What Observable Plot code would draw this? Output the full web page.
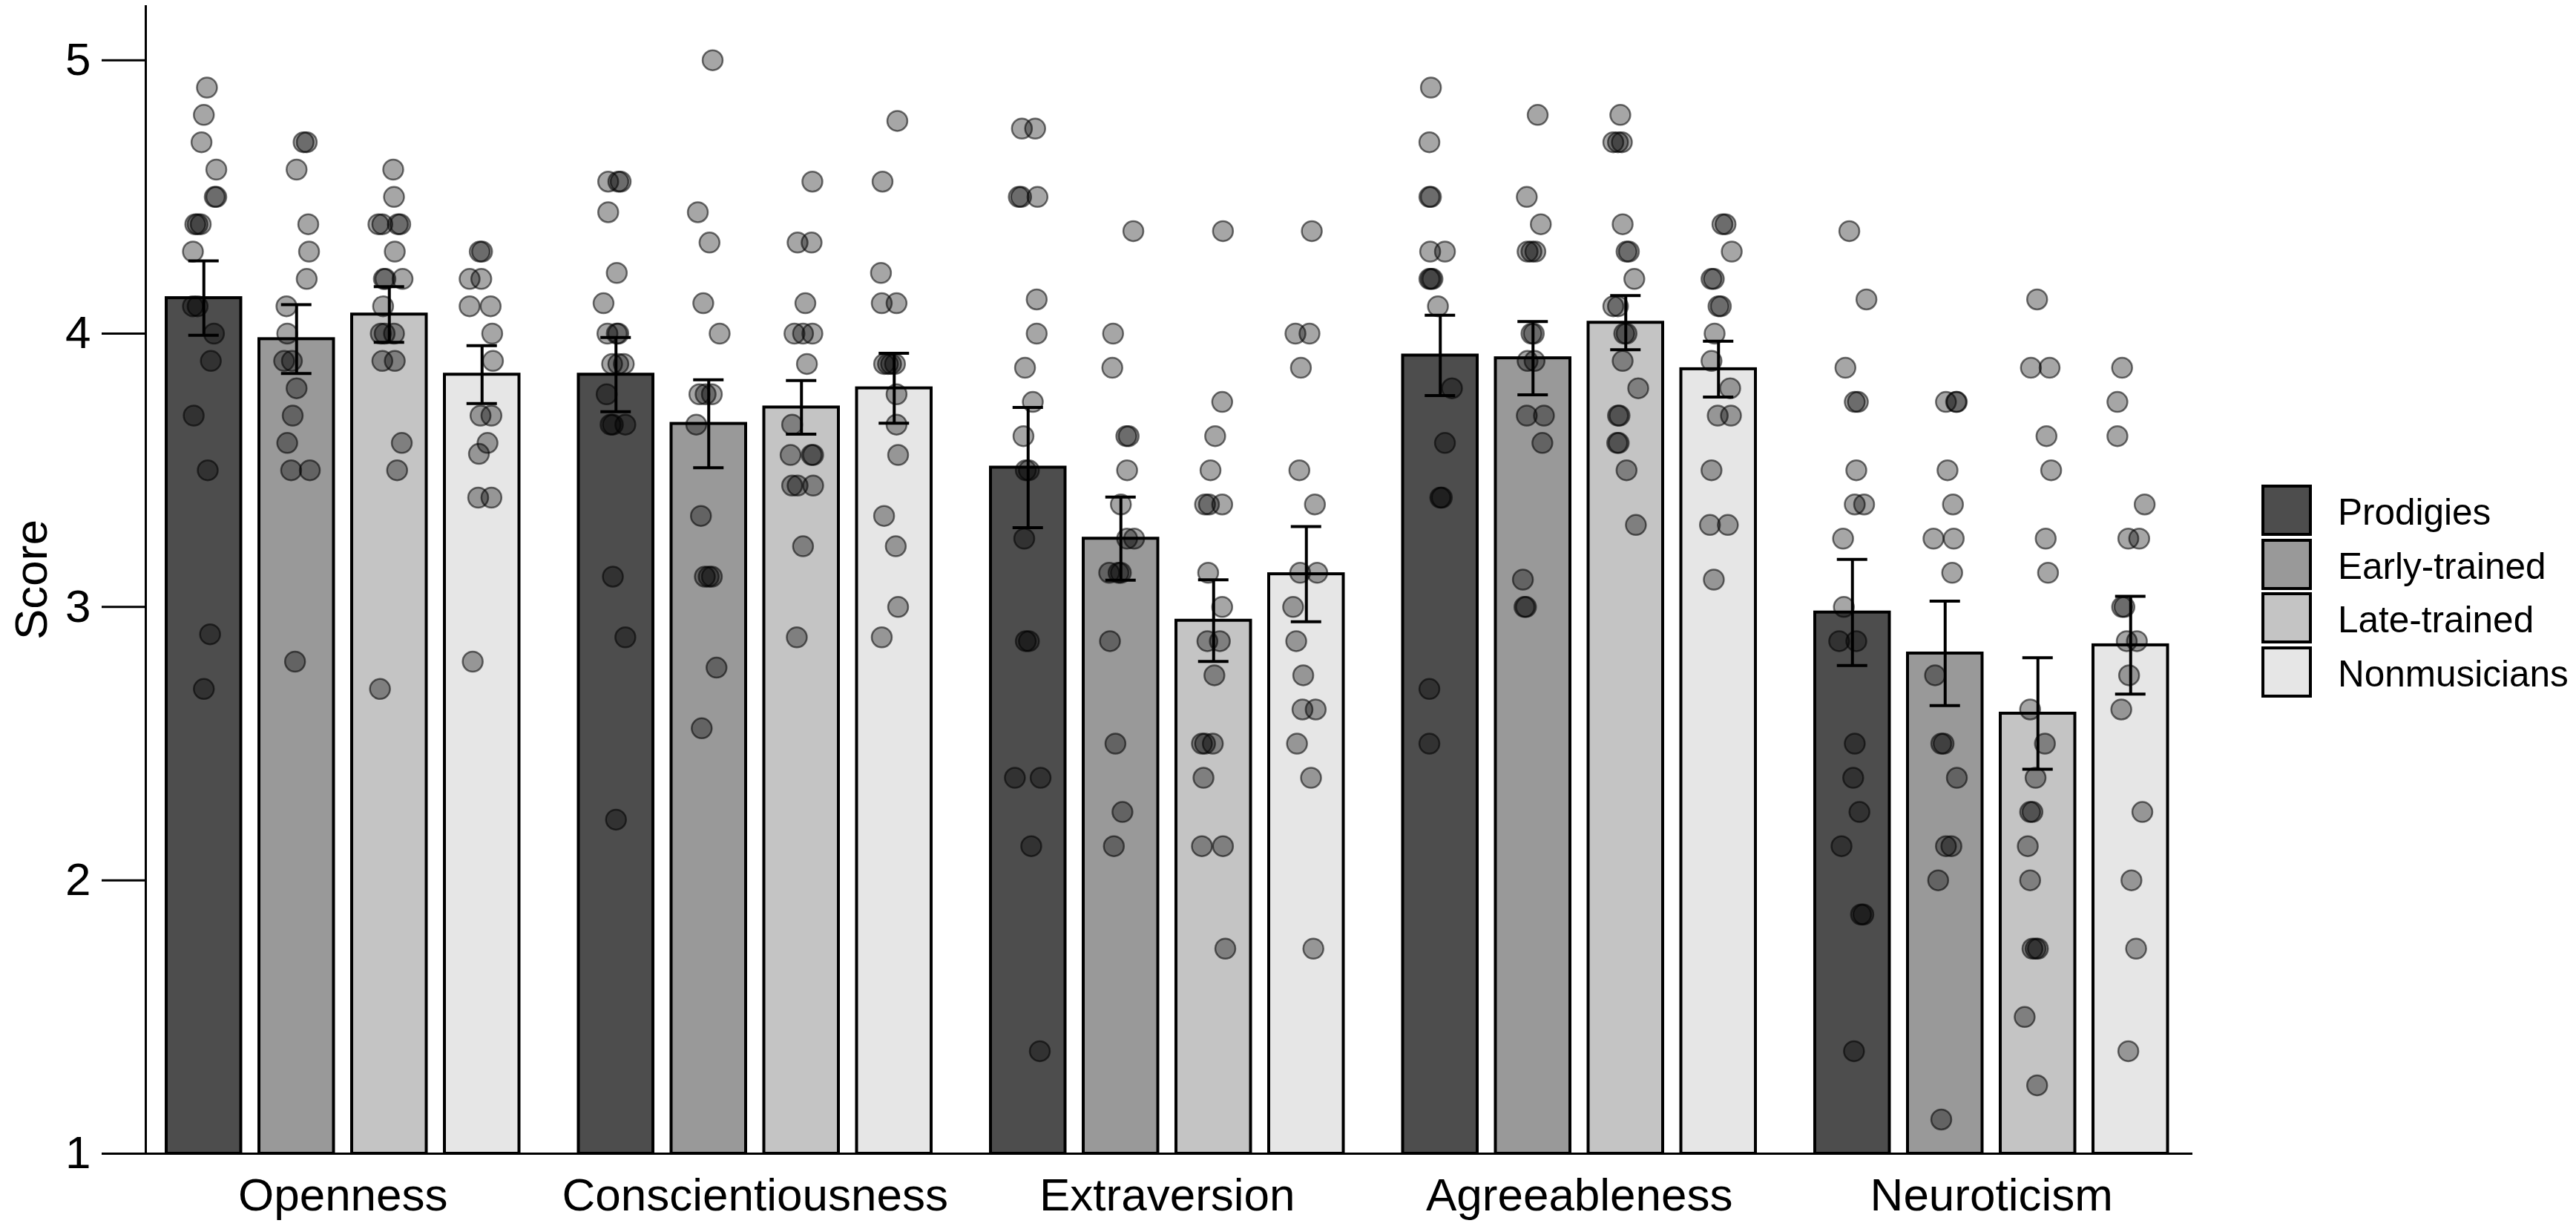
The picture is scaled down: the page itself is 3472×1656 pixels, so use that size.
<!DOCTYPE html>
<html><head><meta charset="utf-8">
<script src="https://cdn.jsdelivr.net/npm/d3@7"></script>
<script src="https://cdn.jsdelivr.net/npm/@observablehq/plot@0.6"></script>
<style>
html,body{margin:0;padding:0;background:#fff;}
#wrap{position:relative;width:3472px;height:1656px;overflow:hidden;}
#chart svg text{font-family:"Liberation Sans",Arial,sans-serif;font-size:62px;fill:#000;}
#chart svg .tick line{stroke:#000;stroke-width:3px;}
#chart svg g[aria-label="y-axis tick"]{stroke-width:3px;stroke:#000;}
#legend{position:absolute;left:3048px;top:653px;font-family:"Liberation Sans",Arial,sans-serif;font-size:49.5px;color:#000;}
.item{display:flex;align-items:center;height:69px;margin-bottom:3.5px;}
.sw{box-sizing:border-box;width:68px;height:69px;border:4.5px solid #000;margin-right:35px;flex:none;}
.lab{padding-top:4px;white-space:nowrap;}
</style></head><body>
<div id="wrap"><div id="chart"></div><div id="legend"></div></div>
<script>
const traits = ["Openness","Conscientiousness","Extraversion","Agreeableness","Neuroticism"];
const groups = ["Prodigies","Early-trained","Late-trained","Nonmusicians"];
const groupFills = ["#4d4d4d","#999999","#c4c4c4","#e6e6e6"];
const yTicks = [1,2,3,4,5];

// bar means per trait (O, C, E, A, N)
const meansProdigies = [4.13, 3.85, 3.51, 3.92, 2.98];
const meansEarly     = [3.98, 3.67, 3.25, 3.91, 2.83];
const meansLate      = [4.07, 3.73, 2.95, 4.04, 2.61];
const meansNon       = [3.85, 3.80, 3.12, 3.87, 2.86];
// standard errors
const seProdigies = [0.136, 0.136, 0.220, 0.147, 0.194];
const seEarly     = [0.126, 0.161, 0.152, 0.134, 0.191];
const seLate      = [0.102, 0.098, 0.149, 0.099, 0.204];
const seNon       = [0.106, 0.128, 0.174, 0.102, 0.179];

// individual scores: [score, horizontal jitter as fraction of bar width]
const opennessScores = [
  [[4.9,.04],[4.8,0],[4.7,-.03],[4.6,.16],[4.5,.14],[4.5,.16],[4.4,-.11],[4.4,-.08],[4.4,-.04],[4.3,-.14],[4.1,-.14],[4.1,-.08],[4.0,.13],[3.9,.09],[3.7,-.13],[3.5,.05],[2.9,.08],[2.7,0]],
  [[4.7,.09],[4.7,.13],[4.6,0],[4.4,.15],[4.3,.16],[4.2,.13],[4.1,-.13],[4.0,-.12],[3.9,-.16],[3.9,-.06],[3.8,0],[3.7,-.05],[3.6,-.12],[3.5,-.07],[3.5,.17],[2.8,-.02]],
  [[4.6,.05],[4.5,.06],[4.4,-.14],[4.4,-.09],[4.4,.11],[4.4,.14],[4.3,.07],[4.2,-.07],[4.2,-.05],[4.2,.17],[4.1,-.08],[4.0,-.11],[4.0,-.06],[4.0,.06],[3.9,-.09],[3.9,.07],[3.6,.16],[3.5,.10],[2.7,-.12]],
  [[4.3,-.03],[4.3,0],[4.2,-.16],[4.2,-.01],[4.1,-.16],[4.1,.11],[4.0,.13],[3.9,.14],[3.7,-.02],[3.7,.12],[3.6,.07],[3.56,-.04],[3.4,-.05],[3.4,.12],[2.8,-.12]]
];
const conscientiousnessScores = [
  [[4.556,-.10],[4.556,.03],[4.556,.06],[4.444,-.10],[4.222,.01],[4.111,-.16],[4.0,-.11],[4.0,.01],[4.0,.03],[3.889,-.05],[3.889,.03],[3.889,.10],[3.778,-.12],[3.667,-.07],[3.667,-.04],[3.667,.12],[3.111,-.04],[2.889,.12],[2.222,0]],
  [[5.0,.05],[4.444,-.14],[4.333,.01],[4.111,-.07],[4.0,.14],[3.778,-.12],[3.778,-.04],[3.778,.04],[3.667,-.16],[3.333,-.10],[3.111,-.05],[3.111,0],[3.111,.04],[2.778,.10],[2.556,-.09]],
  [[4.556,.14],[4.333,-.05],[4.333,.13],[4.111,.05],[4.0,-.09],[4.0,.02],[4.0,.14],[3.889,.07],[3.667,-.12],[3.556,-.14],[3.556,.13],[3.556,.15],[3.444,-.12],[3.444,-.05],[3.444,.15],[3.222,.02],[2.889,-.06]],
  [[4.778,.04],[4.556,-.15],[4.222,-.17],[4.111,-.16],[4.111,.03],[3.889,-.13],[3.889,-.08],[3.889,-.04],[3.889,.01],[3.778,.03],[3.667,.03],[3.556,.05],[3.333,-.13],[3.222,.02],[3.0,.05],[2.889,-.16]]
];
const extraversionScores = [
  [[4.75,-.08],[4.75,.09],[4.5,-.12],[4.5,-.09],[4.5,.12],[4.125,.11],[4.0,.11],[3.875,-.04],[3.75,.06],[3.625,-.06],[3.5,-.03],[3.5,.01],[3.25,-.05],[2.875,-.03],[2.875,.01],[2.375,-.17],[2.375,.16],[2.125,.04],[1.375,.15]],
  [[4.375,.16],[4.0,-.10],[3.875,-.11],[3.625,.07],[3.625,.10],[3.5,.08],[3.375,0],[3.25,.08],[3.25,.17],[3.125,-.15],[3.125,-.03],[3.125,0],[2.875,-.14],[2.5,-.07],[2.25,.02],[2.125,-.09]],
  [[4.375,.12],[3.75,.11],[3.625,.02],[3.5,-.04],[3.375,-.11],[3.375,-.06],[3.375,.11],[3.125,-.07],[3.0,.11],[2.875,-.08],[2.875,.08],[2.75,.01],[2.5,-.15],[2.5,-.11],[2.5,-.01],[2.375,-.13],[2.125,-.15],[2.125,.12],[1.75,.15]],
  [[4.375,.07],[4.0,-.14],[4.0,.04],[3.875,-.07],[3.5,-.09],[3.375,.11],[3.125,-.08],[3.125,.14],[3.0,-.17],[2.875,-.13],[2.75,-.04],[2.625,-.05],[2.625,.12],[2.5,-.12],[2.375,.06],[1.75,.09]]
];
const agreeablenessScores = [
  [[4.9,-.12],[4.7,-.14],[4.5,-.14],[4.5,-.12],[4.3,-.13],[4.3,.06],[4.2,-.14],[4.2,-.12],[4.2,-.10],[4.1,-.03],[3.8,.15],[3.6,.06],[3.4,0],[3.4,.02],[2.7,-.14],[2.5,-.14]],
  [[4.8,.06],[4.5,-.08],[4.4,.10],[4.3,-.07],[4.3,-.02],[4.3,.03],[4.0,-.02],[4.0,.01],[3.9,-.07],[3.9,.02],[3.7,-.08],[3.7,.14],[3.6,.12],[3.1,-.13],[3.0,-.11],[3.0,-.09]],
  [[4.8,-.07],[4.7,-.16],[4.7,-.10],[4.7,-.05],[4.4,-.04],[4.3,.01],[4.3,.04],[4.2,.11],[4.1,-.16],[4.1,-.10],[4.0,-.02],[4.0,.01],[3.9,-.04],[3.8,.16],[3.7,-.10],[3.7,-.08],[3.6,-.11],[3.6,-.09],[3.5,.01],[3.3,.13]],
  [[4.4,.05],[4.4,.09],[4.3,.17],[4.2,-.09],[4.2,-.06],[4.1,0],[4.1,.03],[4.0,-.05],[3.9,-.09],[3.8,.15],[3.7,-.01],[3.7,.16],[3.5,-.09],[3.3,-.11],[3.3,.12],[3.1,-.06]]
];
const neuroticismScores = [
  [[4.375,-.04],[4.125,.18],[3.875,-.09],[3.75,.03],[3.75,.07],[3.5,.05],[3.375,.03],[3.375,.15],[3.25,-.12],[3.0,-.11],[2.875,-.17],[2.875,.05],[2.5,.03],[2.375,.01],[2.25,.09],[2.125,-.14],[1.875,.11],[1.875,.14],[1.375,.02]],
  [[3.75,.01],[3.75,.14],[3.75,.15],[3.5,.03],[3.375,.10],[3.25,-.15],[3.25,.11],[3.125,.09],[2.75,-.13],[2.5,-.05],[2.5,-.02],[2.375,.15],[2.125,.01],[2.125,.08],[2.0,-.09],[1.125,-.05]],
  [[4.125,-.01],[3.875,-.09],[3.875,.15],[3.625,.11],[3.5,.17],[3.25,.10],[3.125,.13],[2.625,-.10],[2.5,.09],[2.375,-.03],[2.25,-.10],[2.25,-.07],[2.125,-.13],[2.0,-.10],[1.75,-.07],[1.75,-.03],[1.75,0],[1.5,-.17],[1.25,-.01]],
  [[3.875,-.11],[3.75,-.17],[3.625,-.17],[3.375,.18],[3.25,-.03],[3.25,.11],[3.0,-.11],[3.0,-.08],[2.875,-.05],[2.875,.08],[2.75,-.02],[2.625,-.12],[2.25,.15],[2.0,.01],[1.75,.07],[1.375,-.03]]
];

// layout in units of one bar pitch
const G = 4.444;               // distance between trait groups
const pos = (t, g) => t * G + g;
const halfBar = 0.402, halfCap = 0.164, barWidth = 0.84;
const xMin = -0.626, xMax = 4 * G + 3 + 0.67;

const meanArrays = [meansProdigies, meansEarly, meansLate, meansNon];
const seArrays = [seProdigies, seEarly, seLate, seNon];
const scoreArrays = [opennessScores, conscientiousnessScores, extraversionScores, agreeablenessScores, neuroticismScores];

const barRows = [];
traits.forEach((trait, t) => groups.forEach((group, g) => {
  barRows.push({trait, group, x: pos(t, g), mean: meanArrays[g][t], se: seArrays[g][t]});
}));
const dotRows = [];
scoreArrays.forEach((arr, t) => arr.forEach((list, g) => list.forEach(([score, jit]) => {
  dotRows.push({trait: traits[t], group: groups[g], x: pos(t, g) + jit * barWidth, score});
})));

const plot = Plot.plot({
  width: 3472, height: 1656,
  marginLeft: 196, marginRight: 517, marginTop: 7, marginBottom: 102,
  style: {fontFamily: "Liberation Sans", fontSize: "62px", background: "white", color: "black"},
  x: {domain: [xMin, xMax], ticks: traits.map((_, t) => pos(t, 1.5)),
      tickFormat: v => traits[Math.round((v - 1.5) / G)], tickSize: 0, tickPadding: 32, label: null},
  y: {domain: [1, 5.2], ticks: yTicks, tickFormat: d => String(d), tickSize: 59, tickPadding: 15,
      label: "Score", labelAnchor: "center", labelOffset: 178, labelArrow: "none"},
  color: {domain: groups, range: groupFills},
  marks: [
    Plot.rect(barRows, {x1: d => d.x - halfBar, x2: d => d.x + halfBar, y1: 1, y2: "mean", fill: "group", stroke: "black", strokeWidth: 4}),
    Plot.dot(dotRows, {x: "x", y: "score", r: 13.5, fill: "black", fillOpacity: 0.35, stroke: "black", strokeOpacity: 0.55, strokeWidth: 2.5}),
    Plot.ruleX(barRows, {x: "x", y1: d => d.mean - d.se, y2: d => d.mean + d.se, stroke: "black", strokeWidth: 4}),
    Plot.ruleY(barRows, {y: d => d.mean + d.se, x1: d => d.x - halfCap, x2: d => d.x + halfCap, stroke: "black", strokeWidth: 4}),
    Plot.ruleY(barRows, {y: d => d.mean - d.se, x1: d => d.x - halfCap, x2: d => d.x + halfCap, stroke: "black", strokeWidth: 4}),
    Plot.ruleY([1], {stroke: "black", strokeWidth: 3}),
    Plot.ruleX([xMin], {stroke: "black", strokeWidth: 3})
  ]
});
document.getElementById("chart").appendChild(plot);

const legend = d3.select("#legend");
groups.forEach((g, i) => {
  const item = legend.append("div").attr("class", "item");
  item.append("div").attr("class", "sw").style("background", groupFills[i]);
  item.append("div").attr("class", "lab").text(g);
});
</script>
</body></html>
